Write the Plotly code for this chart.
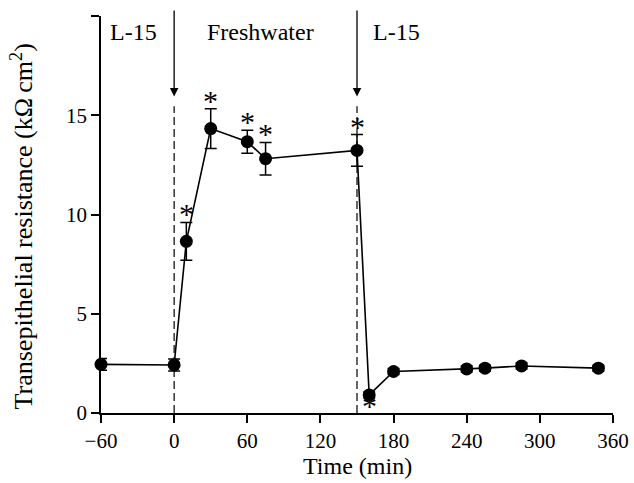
import plotly.graph_objects as go

# ---- data ----
time_min = [-60, 0, 10, 30, 60, 75, 150, 160, 180, 240, 255, 285, 348]
resistance = [2.45, 2.42, 8.65, 14.33, 13.67, 12.81, 13.23, 0.91, 2.09, 2.22, 2.26, 2.37, 2.26]
sem = [0.3, 0.3, 0.95, 1.0, 0.58, 0.82, 0.8, 0.15, 0.15, 0.15, 0.15, 0.15, 0.15]
# significance marker: 1 = asterisk above, -1 = asterisk below, 0 = none
significance = [0, 0, 1, 1, 1, 1, 1, -1, 0, 0, 0, 0, 0]

medium_labels = ["L-15", "Freshwater", "L-15"]
medium_label_x = [-33, 71, 182]
medium_change_times = [0, 150]

x_ticks = [-60, 0, 60, 120, 180, 240, 300, 360]
y_ticks = [0, 5, 10, 15, 20]
y_ticktext = ["0", "5", "10", "15", ""]

FONT = "Liberation Serif"
BLACK = "#000000"
TICK_SIZE = 21
TITLE_SIZE = 24

fig = go.Figure()

fig.add_trace(go.Scatter(
    x=time_min, y=resistance,
    mode="lines+markers",
    line=dict(color=BLACK, width=1.6),
    marker=dict(color=BLACK, size=13),
    error_y=dict(type="data", array=sem, visible=True, color=BLACK,
                 thickness=1.5, width=6),
    cliponaxis=False,
    showlegend=False,
))

annotations = []
# asterisks
for t, r, s, sig in zip(time_min, resistance, sem, significance):
    if sig == 1:
        annotations.append(dict(x=t, y=r + s, xref="x", yref="y", text="*",
                                showarrow=False, yanchor="bottom", yshift=-10,
                                font=dict(family=FONT, size=30, color=BLACK)))
    elif sig == -1:
        annotations.append(dict(x=t, y=r - s, xref="x", yref="y", text="*",
                                showarrow=False, yanchor="top", yshift=11,
                                font=dict(family=FONT, size=30, color=BLACK)))

# medium labels
for lab, lx in zip(medium_labels, medium_label_x):
    annotations.append(dict(x=lx, y=19.2, xref="x", yref="y", text=lab,
                            showarrow=False, yanchor="middle",
                            font=dict(family=FONT, size=TITLE_SIZE, color=BLACK)))

# arrows at medium changes
for tc in medium_change_times:
    annotations.append(dict(x=tc, y=15.95, xref="x", yref="y",
                            ax=tc, ay=20.35, axref="x", ayref="y",
                            text="", showarrow=True, arrowhead=2,
                            arrowsize=1.3, arrowwidth=1.3, arrowcolor=BLACK))

# y-axis title
annotations.append(dict(x=0, y=0.47, xref="paper", yref="paper", xshift=-79,
                        text="Transepithelial resistance (k\u03a9\u2009cm<sup>2</sup>)",
                        textangle=-90, showarrow=False,
                        xanchor="center", yanchor="middle",
                        font=dict(family=FONT, size=26, color=BLACK)))

# x-axis title
annotations.append(dict(x=0.5, y=0, xref="paper", yref="paper", yshift=-53,
                        text="Time (min)", showarrow=False,
                        xanchor="center", yanchor="middle",
                        font=dict(family=FONT, size=TITLE_SIZE, color=BLACK)))

shapes = []
for tc in medium_change_times:
    shapes.append(dict(type="line", xref="x", yref="y", x0=tc, x1=tc, y0=0, y1=15.45,
                       line=dict(color=BLACK, width=1.2, dash="8px,4px")))

fig.update_layout(
    width=634, height=483,
    margin=dict(l=101, r=21, t=16, b=70, autoexpand=False),
    paper_bgcolor="white", plot_bgcolor="white",
    font=dict(family=FONT, size=TICK_SIZE, color=BLACK),
    annotations=annotations,
    shapes=shapes,
    xaxis=dict(
        range=[-60, 360], tickvals=x_ticks, automargin=False,
        showgrid=False, zeroline=False,
        showline=True, linecolor=BLACK, linewidth=1.5,
        ticks="outside", ticklen=8, tickwidth=1.5, tickcolor=BLACK,
        tickfont=dict(family=FONT, size=TICK_SIZE, color=BLACK),
    ),
    yaxis=dict(
        range=[0, 20], tickvals=y_ticks, ticktext=y_ticktext, automargin=False,
        showgrid=False, zeroline=False,
        showline=True, linecolor=BLACK, linewidth=1.5,
        ticks="outside", ticklen=8, tickwidth=1.5, tickcolor=BLACK,
        tickfont=dict(family=FONT, size=TICK_SIZE, color=BLACK),
    ),
)

fig.write_html("out.html", config={"displayModeBar": False},
               post_script="document.body.style.margin='0';document.body.style.overflow='hidden';")
